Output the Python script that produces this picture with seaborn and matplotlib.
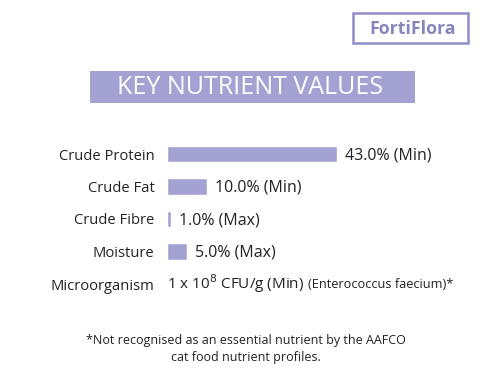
import matplotlib
matplotlib.use("Agg")
import matplotlib.pyplot as plt
import seaborn as sns
import pandas as pd
import numpy as np
from matplotlib.patches import Rectangle

sns.set_theme(style="white")
plt.rcParams['font.family'] = ['Open Sans', 'DejaVu Sans']

categories = ["Crude Protein", "Crude Fat", "Crude Fibre", "Moisture", "Microorganism"]
bar_categories = ["Crude Protein", "Crude Fat", "Crude Fibre", "Moisture"]
values = [43.0, 10.0, 1.0, 5.0]
value_labels = ["43.0% (Min)", "10.0% (Min)", "1.0% (Max)", "5.0% (Max)"]
micro_label = "1 x 10$^{8}$ CFU/g (Min)"
micro_note = "(Enterococcus faecium)*"
title = "KEY NUTRIENT VALUES"
brand = "FortiFlora"
footnote = "*Not recognised as an essential nutrient by the AAFCO\ncat food nutrient profiles."

bar_color = "#a3a2d3"
text_color = "#222222"

W, H = 500, 389
fig = plt.figure(figsize=(W / 100, H / 100), dpi=100)
fig.patch.set_facecolor("white")

def fx(px):
    return px / W

def fy(py):
    return 1 - py / H

# Bar axes
ax_left, ax_right = 167, 467
ax_top, ax_bot = 137.75, 300.25
ax = fig.add_axes([fx(ax_left), fy(ax_bot), fx(ax_right - ax_left), (ax_bot - ax_top) / H])
df = pd.DataFrame({"category": bar_categories, "value": values})
sns.barplot(data=df, y="category", x="value", order=categories, orient="h",
            color=bar_color, saturation=1, width=0.5, ax=ax)
ax.set_xlim(0, 43 * (ax_right - ax_left) / 170)
ax.set_ylim(4.5, -0.5)
ax.set_xlabel("")
ax.set_ylabel("")
ax.set_xticks([])
for s in ax.spines.values():
    s.set_visible(False)
ax.tick_params(axis="y", length=0, pad=9, labelsize=10.6, labelcolor=text_color)
ax.set_facecolor("none")

for i, (v, lab) in enumerate(zip(values, value_labels)):
    ax.annotate(lab, xy=(v, i), xytext=(6, -1), textcoords="offset points",
                ha="left", va="center", fontsize=11.5, color=text_color)
t = ax.annotate(micro_label, xy=(0, 4), xytext=(0, 0), textcoords="offset points",
                ha="left", va="center", fontsize=11, color=text_color)
fig.canvas.draw()
bb = t.get_window_extent()
ax.annotate(micro_note, xy=(bb.x1 + 4, (bb.y0 + bb.y1) / 2 - 1), xycoords="figure pixels",
            ha="left", va="center", fontsize=9.2, color=text_color)

# Title banner
fig.patches.append(Rectangle((fx(90), fy(103)), fx(415 - 90), 32 / H,
                             transform=fig.transFigure, facecolor=bar_color,
                             edgecolor="none"))
fig.text(fx(250), fy(87.5), title, ha="center", va="center", fontsize=18,
         color="white", fontweight="normal")

# Brand box
fig.patches.append(Rectangle((fx(353), fy(43)), fx(468 - 353), 30 / H,
                             transform=fig.transFigure, facecolor="white",
                             edgecolor="#8f8ec8", linewidth=1.8))
fig.text(fx(413), fy(28.5), brand, ha="center", va="center", fontsize=12.8,
         color="#8685bd", fontweight="bold")

# Footnote
fig.text(fx(246), fy(349), footnote, ha="center", va="center", fontsize=9,
         color=text_color, linespacing=1.45)

fig.savefig("out.png", dpi=100, facecolor="white")
